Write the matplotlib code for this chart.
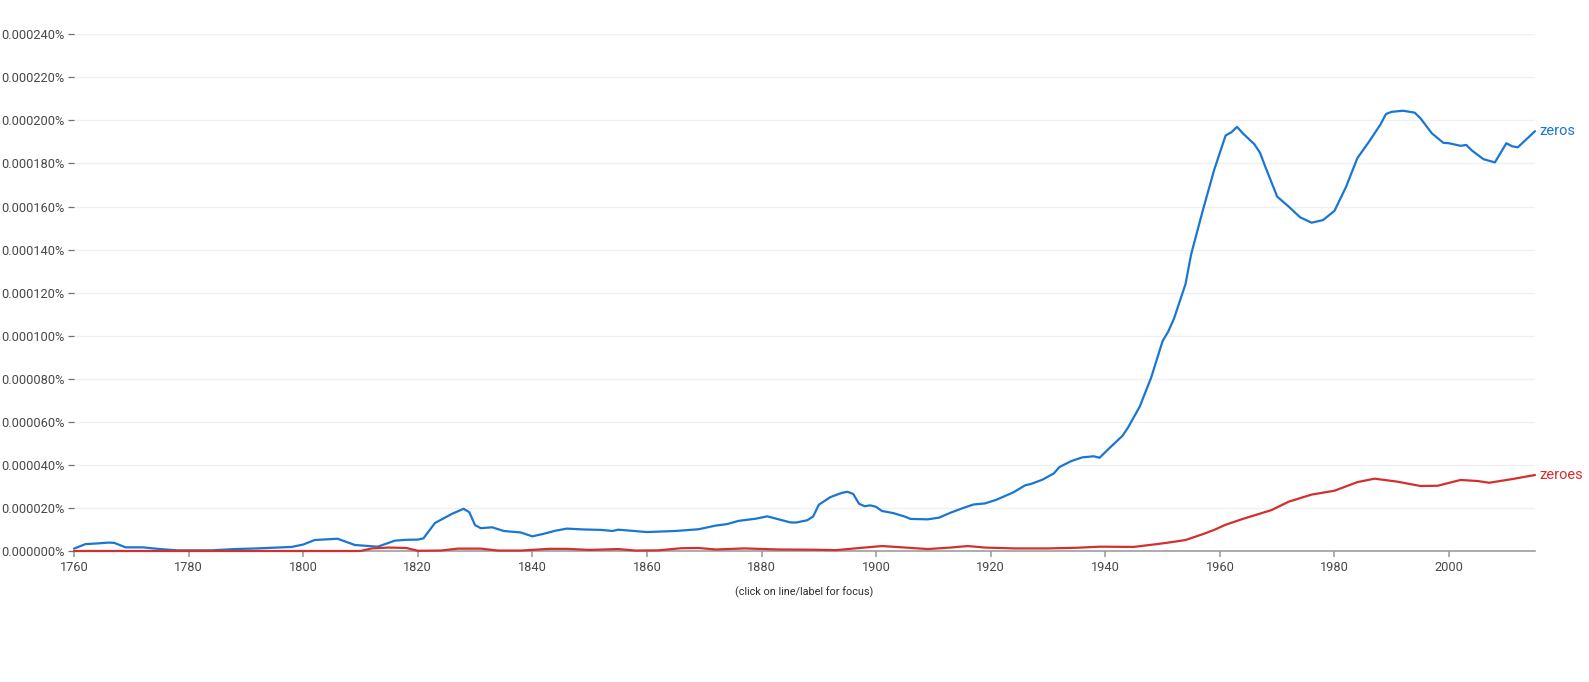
import matplotlib
matplotlib.use("Agg")
import matplotlib.pyplot as plt
from matplotlib.ticker import FuncFormatter, MultipleLocator

plt.rcParams['font.family'] = ['Roboto', 'DejaVu Sans']

# values in units of 1e-6 percent
zeros_years = [1760, 1762, 1764, 1766, 1767, 1769, 1772, 1775, 1778, 1784, 1788, 1792, 1798,
               1800, 1802, 1806, 1809, 1813, 1816, 1818, 1820, 1821, 1823, 1826, 1828, 1829,
               1830, 1831, 1833, 1835, 1838, 1840, 1842, 1844, 1846, 1849, 1852, 1854, 1855,
               1860, 1865, 1869, 1872, 1874, 1876, 1879, 1881, 1883, 1885, 1886, 1888, 1889,
               1890, 1892, 1894, 1895, 1896, 1897, 1898, 1899, 1900, 1901, 1903, 1905, 1906,
               1909, 1911, 1913, 1915, 1917, 1919, 1921, 1924, 1926, 1927, 1929, 1931, 1932,
               1934, 1936, 1938, 1939, 1941, 1943, 1944, 1946, 1948, 1950, 1951, 1952, 1953,
               1954, 1955, 1956, 1957, 1959, 1961, 1962, 1963, 1964, 1966, 1967, 1968, 1970,
               1972, 1974, 1976, 1978, 1980, 1982, 1984, 1986, 1988, 1989, 1990, 1992, 1994,
               1995, 1997, 1999, 2000, 2002, 2003, 2004, 2006, 2008, 2010, 2011, 2012, 2014, 2015]
zeros_vals = [1.1, 3.2, 3.5, 3.9, 3.8, 1.7, 1.7, 0.9, 0.3, 0.3, 0.9, 1.2, 1.9,
              3.0, 5.1, 5.7, 2.8, 2.0, 4.8, 5.2, 5.3, 5.9, 13.0, 17.3, 19.6, 18.0,
              12.0, 10.6, 11.0, 9.3, 8.6, 6.8, 8.0, 9.4, 10.4, 10.0, 9.8, 9.3, 9.9,
              8.8, 9.3, 10.1, 11.8, 12.5, 14.0, 15.0, 16.1, 14.7, 13.3, 13.2, 14.3, 16.0,
              21.5, 25.0, 27.0, 27.5, 26.5, 22.0, 20.8, 21.2, 20.5, 18.6, 17.6, 16.0, 14.9,
              14.7, 15.5, 17.8, 19.8, 21.6, 22.1, 23.8, 27.3, 30.5, 31.1, 33.1, 36.0, 39.0,
              41.7, 43.5, 44.0, 43.3, 48.5, 53.5, 57.5, 67.0, 80.5, 97.5, 102.0, 108.0, 116.0,
              124.0, 138.0, 148.0, 158.0, 177.0, 193.0, 194.5, 197.0, 194.0, 189.0, 185.0, 178.0, 164.6,
              160.0, 155.0, 152.5, 153.7, 158.0, 169.0, 182.5, 190.0, 198.0, 203.0, 204.0, 204.5, 203.6,
              201.0, 194.0, 189.6, 189.4, 188.2, 188.6, 186.0, 182.0, 180.5, 189.4, 188.0, 187.5, 192.5, 195.0]

zeroes_years = [1760, 1810, 1812, 1815, 1818, 1820, 1824, 1827, 1831, 1834, 1838, 1843, 1846,
                1850, 1855, 1858, 1862, 1866, 1869, 1872, 1877, 1883, 1889, 1893, 1898, 1901,
                1904, 1909, 1913, 1916, 1919, 1924, 1930, 1935, 1939, 1945, 1949, 1951, 1954,
                1957, 1959, 1961, 1964, 1969, 1972, 1976, 1980, 1984, 1987, 1991, 1995, 1998,
                2002, 2005, 2007, 2011, 2015]
zeroes_vals = [0.0, 0.0, 1.2, 1.6, 1.4, 0.1, 0.2, 1.1, 1.1, 0.2, 0.2, 1.0, 1.0,
               0.5, 0.9, 0.2, 0.3, 1.3, 1.4, 0.7, 1.2, 0.7, 0.6, 0.4, 1.6, 2.3,
               1.8, 0.9, 1.6, 2.3, 1.6, 1.2, 1.2, 1.5, 2.0, 1.9, 3.2, 3.9, 5.1,
               7.8, 9.8, 12.2, 14.9, 19.0, 22.9, 26.2, 28.0, 32.0, 33.6, 32.2, 30.2, 30.3,
               33.0, 32.5, 31.7, 33.4, 35.3]

series_names = ["zeros", "zeroes"]
series_colors = ["#1976D2", "#D32F2F"]
x_ticks = [1760, 1780, 1800, 1820, 1840, 1860, 1880, 1900, 1920, 1940, 1960, 1980, 2000]

W, H = 1589, 682
fig = plt.figure(figsize=(W / 100, H / 100), dpi=100)
left, right, bottom, top = 74, 1535, 551, 34.3
ax = fig.add_axes([left / W, 1 - bottom / H, (right - left) / W, (bottom - top) / H])

ax.set_xlim(1760, 2015)
ax.set_ylim(0, 240)

for yrs, vals, name, col in [(zeros_years, zeros_vals, series_names[0], series_colors[0]),
                             (zeroes_years, zeroes_vals, series_names[1], series_colors[1])]:
    ax.plot(yrs, vals, color=col, lw=1.6, solid_joinstyle='round', solid_capstyle='round',
            clip_on=False, zorder=3)
    ax.annotate(name, xy=(yrs[-1], vals[-1]), xytext=(3, 0), textcoords='offset points',
                color=col, fontsize=10.5, va='center', ha='left', annotation_clip=False)

ax.yaxis.set_major_locator(MultipleLocator(20))
ax.yaxis.set_major_formatter(FuncFormatter(lambda v, p: f"{v / 1e6:.6f}%"))
ax.set_xticks(x_ticks)
ax.grid(axis='y', color='#f0f0f0', lw=1, zorder=0)
ax.set_axisbelow(True)

for s in ['left', 'right', 'top']:
    ax.spines[s].set_visible(False)
ax.spines['bottom'].set_color('#9e9e9e')
ax.spines['bottom'].set_linewidth(1.2)

ax.tick_params(axis='y', length=4, width=0.9, color='#6f6f6f', labelcolor='#484848',
               labelsize=9.2, pad=3)
ax.tick_params(axis='x', length=4, width=1.2, color='#9e9e9e', labelcolor='#484848',
               labelsize=9.2, pad=3)

fig.text(804.5 / W, 1 - 592 / H, "(click on line/label for focus)", ha='center', va='center',
         fontsize=7.8, color='#303030')

fig.savefig("out.png", dpi=100)
